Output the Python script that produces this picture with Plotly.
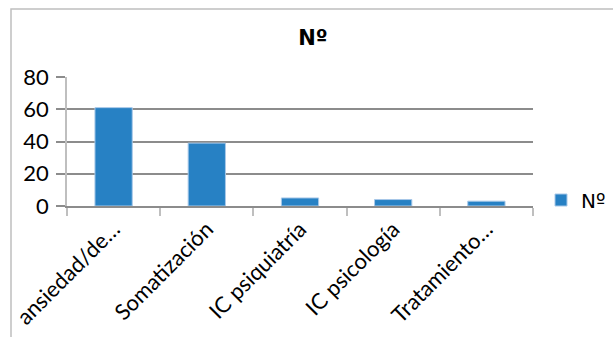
import plotly.graph_objects as go

categories = ["ansiedad/de…", "Somatización", "IC psiquiatría", "IC psicología", "Tratamiento…"]
values = [61, 39, 5, 4, 3]
series_name = "Nº"
title_text = "Nº"
y_ticks = [0, 20, 40, 60, 80]

W, H = 613, 337
L, R, T, B = 67, 80, 77, 131
pw, ph = W - L - R, H - T - B

def px_x(p):
    return (p - L) / pw

def px_y(p):
    return (H - B - p) / ph

font_family = "Lato, Open Sans, sans-serif"
sym_family = "DejaVu Sans, sans-serif"
fs = 22

fig = go.Figure()
fig.add_trace(go.Bar(
    x=categories, y=values, name=series_name,
    marker=dict(color="#2781C4", line=dict(color="#A8C8E8", width=1)),
    showlegend=True,
))

fig.update_layout(
    width=W, height=H,
    margin=dict(l=L, r=R, t=T, b=B, autoexpand=False),
    paper_bgcolor="white", plot_bgcolor="white",
    bargap=0.6,
    font=dict(family=font_family, size=fs, color="#000000"),
    title=dict(text="<b>" + title_text + "</b>", x=313 / W, xanchor="center",
               y=1 - 38 / H, yanchor="middle",
               font=dict(family=sym_family, size=21, color="#000000")),
    showlegend=True,
    legend=dict(x=px_x(541), xanchor="left", y=px_y(200), yanchor="middle",
                font=dict(family=sym_family, size=20, color="#000000"), bgcolor="rgba(0,0,0,0)"),
    xaxis=dict(
        tickangle=-45, showline=True, linecolor="#8C8C8C", linewidth=1.5,
        ticks="outside", tickson="boundaries", ticklen=8, tickcolor="#BFBFBF", tickwidth=1.5,
        showgrid=False, tickfont=dict(size=fs, color="#000000"),
    ),
    yaxis=dict(
        range=[0, 80], tickvals=y_ticks, showgrid=True, gridcolor="#8C8C8C", gridwidth=1.5,
        zeroline=False, showline=True, linecolor="#BFBFBF", linewidth=1.5,
        ticks="outside", ticklen=9, tickcolor="#8C8C8C", tickwidth=1.5,
        ticklabelstandoff=3, tickfont=dict(size=fs, color="#000000"),
    ),
    shapes=[dict(type="rect", xref="paper", yref="paper",
                 x0=px_x(11), x1=px_x(W + 20), y0=px_y(H + 20), y1=px_y(9),
                 line=dict(color="#BFBFBF", width=1.5), fillcolor="rgba(0,0,0,0)", layer="below")],
)

fig.write_html("out.html", config={"displayModeBar": False},
               post_script="document.body.style.margin='0';")
